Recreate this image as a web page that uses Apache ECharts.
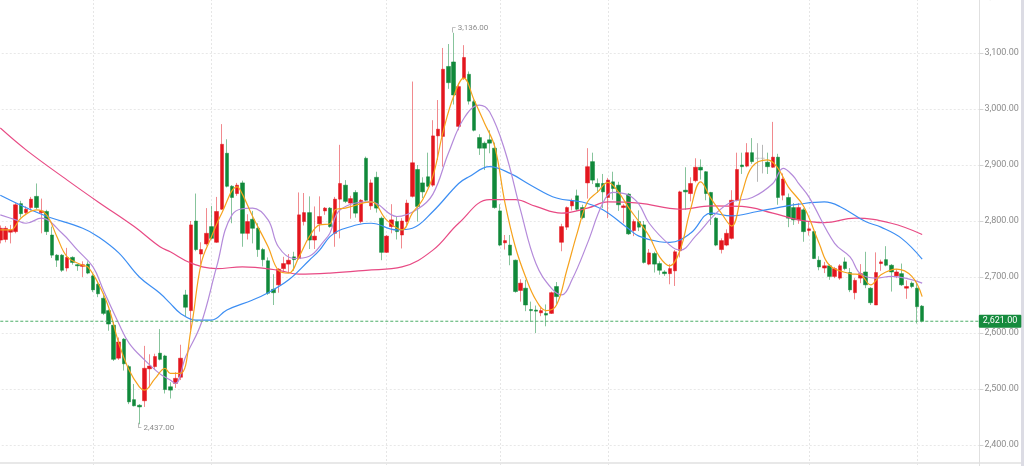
<!DOCTYPE html>
<html>
<head>
<meta charset="utf-8">
<script src="https://cdn.jsdelivr.net/npm/echarts@6/dist/echarts.min.js"></script>
<style>
html,body{margin:0;padding:0;background:#fff;}
#main{width:1024px;height:466px;}
</style>
</head>
<body>
<div id="main"></div>
<script>
// candles (index 0 = left edge)
var openP=[2766,2767,2780,2781,2831,2815,2824,2844,2815,2817,2775,2739,2739,2716,2735,2722,2719,2723,2702,2687,
  2662,2640,2614,2555,2589,2540,2481,2471,2479,2536,2540,2564,2559,2504,2510,2521,2668,2640,2800,2741,
  2759,2790,2762,2821,2921,2862,2849,2868,2778,2803,2787,2749,2729,2678,2686,2715,2723,2736,2733,2799,
  2815,2766,2795,2818,2823,2778,2839,2864,2832,2851,2799,2912,2827,2878,2805,2744,2790,2799,2775,2799,
  2844,2892,2868,2879,2864,2952,2951,3076,3084,2969,3055,3062,3013,2949,2939,2945,2930,2818,2761,2757,
  2730,2676,2680,2642,2641,2636,2635,2635,2683,2762,2789,2827,2845,2824,2868,2906,2867,2867,2842,2870,
  2864,2824,2848,2783,2799,2793,2723,2742,2724,2709,2706,2711,2747,2855,2849,2872,2896,2888,2851,2805,
  2749,2757,2769,2837,2900,2898,2922,2912,2912,2905,2896,2914,2846,2842,2824,2802,2820,2783,2781,2730,
  2716,2720,2701,2698,2727,2708,2672,2698,2709,2680,2650,2724,2731,2721,2702,2706,2680,2689,2680,2648];
var closeP=[2787,2787,2784,2829,2813,2821,2839,2824,2818,2781,2739,2730,2712,2735,2726,2720,2722,2707,2677,2670,
  2635,2616,2553,2584,2545,2477,2470,2468,2537,2541,2558,2553,2499,2498,2519,2555,2646,2793,2749,2749,
  2778,2769,2817,2937,2862,2842,2864,2778,2799,2787,2749,2731,2671,2672,2714,2724,2730,2731,2811,2815,
  2766,2773,2808,2823,2790,2839,2867,2835,2840,2814,2837,2837,2868,2823,2744,2773,2802,2781,2800,2832,
  2904,2826,2852,2862,2952,2964,3071,3047,3025,3040,3092,3014,2962,2930,2930,2939,2824,2757,2765,2739,
  2674,2689,2650,2640,2639,2640,2632,2672,2665,2790,2824,2836,2821,2806,2897,2873,2861,2852,2873,2858,
  2829,2827,2777,2799,2789,2726,2743,2723,2712,2706,2715,2745,2852,2852,2867,2896,2891,2849,2811,2757,
  2765,2778,2837,2892,2897,2922,2906,2912,2912,2897,2914,2842,2875,2805,2802,2824,2781,2786,2733,2718,
  2720,2701,2715,2720,2715,2677,2694,2706,2686,2654,2708,2727,2721,2709,2709,2686,2683,2683,2647,2621];
var lowP=[2760,2762,2760,2778,2806,2811,2819,2821,2778,2775,2734,2718,2709,2710,2722,2711,2700,2705,2673,2664,
  2632,2604,2550,2552,2533,2473,2469,2437,2468,2503,2535,2551,2492,2483,2502,2516,2630,2605,2746,2722,
  2756,2767,2761,2820,2860,2796,2845,2754,2767,2760,2736,2719,2668,2650,2672,2708,2708,2711,2731,2792,
  2750,2750,2781,2811,2788,2754,2769,2832,2804,2806,2796,2835,2820,2815,2730,2743,2778,2767,2751,2792,
  2842,2799,2841,2860,2861,2909,2897,3036,3008,2962,3052,3008,2960,2918,2891,2921,2822,2755,2749,2721,
  2672,2656,2639,2620,2600,2630,2612,2634,2652,2746,2784,2819,2818,2803,2840,2866,2850,2823,2805,2838,
  2818,2796,2775,2773,2782,2724,2721,2708,2704,2702,2687,2684,2735,2820,2835,2869,2874,2837,2793,2755,
  2742,2755,2767,2835,2884,2896,2902,2870,2885,2884,2895,2829,2837,2789,2793,2795,2763,2774,2732,2712,
  2707,2695,2698,2695,2712,2673,2660,2689,2680,2650,2650,2711,2719,2674,2698,2684,2661,2680,2617,2619];
var highP=[2792,2791,2793,2832,2836,2826,2843,2867,2840,2820,2790,2741,2741,2752,2737,2723,2728,2728,2705,2693,
  2671,2642,2620,2592,2591,2543,2509,2473,2577,2562,2563,2607,2561,2512,2530,2579,2677,2800,2849,2762,
  2823,2827,2843,2973,2946,2864,2868,2872,2812,2818,2796,2752,2735,2705,2716,2736,2741,2745,2851,2850,
  2844,2826,2844,2825,2825,2843,2936,2873,2845,2855,2839,2915,2874,2888,2808,2775,2830,2808,2805,2838,
  3049,2900,2878,2922,2980,3016,3109,3116,3136,3046,3114,3067,3017,2955,2942,2962,2940,2830,2775,2775,
  2731,2696,2695,2656,2649,2645,2651,2674,2691,2795,2826,2840,2856,2829,2930,2922,2876,2884,2877,2888,
  2870,2830,2850,2803,2819,2800,2750,2745,2728,2712,2723,2748,2854,2896,2878,2912,2910,2889,2852,2807,
  2769,2785,2855,2922,2922,2939,2948,2939,2936,2922,2977,2920,2885,2849,2832,2832,2823,2800,2782,2737,
  2727,2723,2718,2723,2735,2716,2698,2723,2745,2682,2744,2731,2755,2723,2714,2724,2694,2692,2689,2650];

// moving averages as [candle index, value]
var ma5Pts=[[0,2784],[2,2784],[4,2805],[7,2820],[9,2811],[11,2772],[13,2736],[16,2721],[17,2718],[19,2689],
  [21,2647],[23,2582],[25,2534],[27,2504],[28,2498],[30,2518],[32,2537],[33,2528],[35,2528],[37,2605],
  [39,2724],[41,2772],[43,2814],[46,2861],[47,2848],[49,2808],[52,2754],[54,2712],[56,2707],[58,2736],
  [60,2772],[62,2793],[64,2795],[65,2820],[67,2823],[72,2834],[75,2802],[78,2784],[80,2814],[82,2838],
  [84,2880],[86,2960],[88,3022],[90,3055],[92,3016],[94,2975],[96,2933],[98,2832],[100,2754],[102,2700],
  [104,2659],[106,2640],[108,2650],[110,2712],[112,2778],[114,2834],[116,2852],[118,2869],[120,2852],[122,2824],
  [124,2799],[126,2773],[128,2736],[130,2720],[132,2748],[134,2820],[136,2870],[138,2840],[140,2814],[142,2791],
  [144,2849],[146,2897],[149,2909],[151,2894],[153,2861],[156,2826],[159,2760],[161,2721],[165,2706],[167,2704],
  [169,2686],[171,2704],[174,2714],[177,2701],[179,2665]];
var ma10Pts=[[0,2811],[3,2802],[5,2796],[8,2805],[12,2778],[15,2748],[18,2718],[20,2677],[23,2617],[25,2582],
  [28,2552],[31,2527],[33,2516],[34,2510],[36,2558],[39,2617],[42,2718],[45,2811],[49,2823],[52,2802],
  [54,2754],[57,2733],[60,2737],[63,2766],[64,2778],[66,2820],[72,2834],[77,2808],[81,2821],[84,2848],
  [87,2921],[90,2983],[93,3007],[95,2995],[98,2925],[101,2820],[104,2724],[107,2680],[109,2668],[111,2695],
  [114,2760],[117,2832],[119,2851],[122,2846],[124,2830],[126,2796],[130,2757],[132,2748],[135,2773],[139,2814],
  [142,2834],[146,2842],[150,2867],[152,2894],[154,2880],[155,2867],[157,2843],[162,2760],[165,2736],[167,2706],
  [170,2698],[173,2701],[179,2689]];
var ma30Pts=[[0,2846],[8,2812],[16,2787],[19,2772],[23,2743],[27,2700],[31,2671],[33,2653],[35,2635],[38,2623],
  [41,2623],[44,2641],[49,2659],[52,2672],[56,2695],[60,2730],[62,2748],[64,2772],[66,2784],[72,2796],
  [77,2784],[80,2787],[84,2817],[89,2867],[91,2879],[95,2897],[99,2885],[103,2864],[108,2841],[113,2834],
  [117,2820],[122,2786],[124,2773],[128,2763],[130,2762],[134,2778],[138,2814],[142,2809],[147,2817],[151,2824],
  [155,2830],[160,2834],[163,2826],[168,2799],[171,2789],[175,2769],[179,2732]];
var ma60Pts=[[0,2966],[5,2927],[13,2873],[19,2834],[26,2790],[31,2754],[33,2745],[37,2725],[42,2715],[47,2718],
  [54,2712],[58,2705],[64,2707],[71,2712],[78,2718],[84,2748],[89,2796],[95,2838],[100,2838],[104,2826],
  [109,2814],[114,2823],[118,2834],[124,2832],[132,2821],[138,2827],[144,2826],[150,2814],[155,2802],[160,2797],
  [166,2805],[173,2796],[179,2776]];

// candle indices that carry a vertical grid line
var gridTickIdx=[18,41,75,97,118,157,178];
var slotCount=191;

var upC='#e3161e', downC='#10893a', grayC='#b7b7b7', lastC='#4cae68';
var fmt=function(v){return Number(v).toLocaleString('en-US',{minimumFractionDigits:2,maximumFractionDigits:2});};

var cats=[];
for(var k=0;k<slotCount;k++) cats.push('d'+k);

var grayStyle={color:grayC,color0:grayC,borderColor:grayC,borderColor0:grayC};
var wickData=openP.map(function(o,i){
  var it={value:[o,closeP[i],lowP[i],highP[i]]};
  if(o===closeP[i]) it.itemStyle=grayStyle;
  return it;
});
var bodyData=openP.map(function(o,i){
  var c=closeP[i];
  var it={value:[o,c,Math.min(o,c),Math.max(o,c)]};
  if(o===c) it.itemStyle=grayStyle;
  return it;
});
var lastClose=closeP[closeP.length-1];
// last-price guide: spans the whole category axis at the last close
var lastLine=[[0,lastClose],[slotCount-1,lastClose]];

var myChart=echarts.init(document.getElementById('main'),null,{renderer:'canvas'});

function maLine(pts,color){
  return {type:'line',data:pts,smooth:0.4,showSymbol:false,silent:true,z:4,
    lineStyle:{color:color,width:1.2},itemStyle:{color:color}};
}

var option={
  animation:false,
  backgroundColor:'#fff',
  grid:{left:-2.28,right:42.6,top:-59,bottom:-35,outerBoundsMode:'none',containLabel:false},
  xAxis:{type:'category',data:cats,boundaryGap:true,
    axisLine:{show:false},axisTick:{show:false},axisLabel:{show:false},splitLine:{show:false}},
  yAxis:{type:'value',position:'right',min:2300,max:3300,interval:100,offset:-2,
    axisLine:{show:true,lineStyle:{color:'#e0e0e0'}},
    axisTick:{show:true,length:4,lineStyle:{color:'#d4d4d4'}},
    axisLabel:{color:'#8c8c8c',fontSize:9,fontFamily:'Roboto',margin:5,formatter:fmt,hideOverlap:false},
    splitLine:{show:true,lineStyle:{color:'#e8e8e8',type:[2,2]}}},
  graphic:[
    {type:'rect',left:0,top:462,silent:true,shape:{width:1024,height:2},style:{fill:'#e8e8e8'}},
    {type:'rect',right:0,top:0,silent:true,shape:{width:3,height:466},style:{fill:'#dcdce4'}}
  ],
  series:[
    {type:'line',data:[],silent:true,z:0,
      markLine:{silent:true,z:0,symbol:['none','none'],label:{show:false},
        lineStyle:{color:'#e6e6e6',type:[2,2],width:1},
        data:gridTickIdx.map(function(i){return {xAxis:i};})}},
    {type:'candlestick',name:'wick',data:wickData,barWidth:1,z:2,silent:true,
      itemStyle:{color:'rgba(227,22,30,0.5)',color0:'rgba(16,137,58,0.5)',
        borderColor:'rgba(227,22,30,0.5)',borderColor0:'rgba(16,137,58,0.5)',borderWidth:1},
      markPoint:{silent:true,symbol:'circle',symbolSize:1,itemStyle:{color:'rgba(0,0,0,0)'},
        data:[
          {type:'max',valueDim:'highest',
            label:{show:true,position:'right',distance:0,offset:[-4,-5],color:'#8c8c8c',fontSize:8,fontFamily:'Roboto',
              formatter:function(p){return '\u250c '+fmt(p.value);}}},
          {type:'min',valueDim:'lowest',
            label:{show:true,position:'right',distance:0,offset:[-4,4],color:'#8c8c8c',fontSize:8,fontFamily:'Roboto',
              formatter:function(p){return '\u2514 '+fmt(p.value);}}}
        ]}},
    {type:'candlestick',name:'body',data:bodyData,barWidth:4,z:3,silent:true,
      itemStyle:{color:upC,color0:downC,borderColor:upC,borderColor0:downC,borderWidth:0.5}},
    {type:'line',name:'last',data:lastLine,silent:true,z:5,showSymbol:false,
      lineStyle:{color:lastC,type:[3,2],width:1},itemStyle:{color:lastC},
      endLabel:{show:true,distance:0,formatter:function(){return fmt(lastClose);},
        color:'#fff',backgroundColor:'#158b3d',padding:[2,4,2,4],fontSize:9,fontFamily:'Roboto',borderRadius:1}},
    maLine(ma60Pts,'#e84a84'),
    maLine(ma30Pts,'#3c8ef3'),
    maLine(ma10Pts,'#b48ada'),
    maLine(ma5Pts,'#f6a21c')
  ]
};

myChart.setOption(option);
</script>
</body>
</html>
